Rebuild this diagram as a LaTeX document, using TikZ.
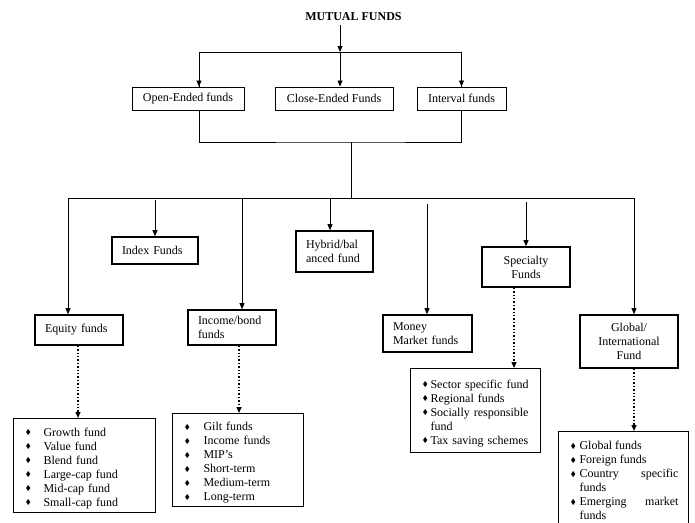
\documentclass[tikz,border=0pt]{standalone}
\usepackage{fontspec}
\usepackage{amssymb}
\setmainfont{Liberation Serif}
\usetikzlibrary{arrows.meta}

\newlength\bulletgap
\newcommand{\fundbullet}{\raisebox{0.25ex}{\scriptsize$\blacklozenge$}}
\newcommand{\fitem}[1]{\par\noindent\hangindent=\bulletgap\hangafter=1\makebox[\bulletgap][l]{\hspace{2pt}\fundbullet}#1}
\newcommand{\fulljustify}{\leftskip=0pt\rightskip=0pt\spaceskip=0pt\xspaceskip=0pt\parfillskip=0pt plus 1fil}

\begin{document}
\begin{tikzpicture}[x=1pt,y=-1pt,
	font=\fontsize{12}{14}\selectfont,
	arr/.style={-{Triangle[length=6pt,width=5pt]},line width=0.8pt},
	dotarr/.style={-{Triangle[length=6pt,width=5pt]},line width=1.4pt,dotted},
	topbox/.style={draw,line width=1pt,inner sep=0pt,minimum height=23pt},
	kindbox/.style={draw,line width=1.6pt,inner xsep=10pt,inner ysep=0pt},
	kindboxc/.style={kindbox,align=center},
	listbox/.style={draw,line width=1.1pt,anchor=north west,inner xsep=10pt,inner ysep=3pt}]
	\useasboundingbox (0,0) rectangle (695,522);
	\clip (0,0) rectangle (695,522);
	\node[font=\fontsize{12}{14}\selectfont\bfseries] (title) at (353.5,17) {MUTUAL FUNDS};
	\node[topbox,minimum width=112pt] (open) at (188,98.5) {Open-Ended funds};
	\node[topbox,minimum width=118pt] (close) at (334,98.5) {Close-Ended Funds};
	\node[topbox,minimum width=89pt] (interval) at (461.5,98.5) {Interval funds};
	\node[kindbox,text width=68pt,minimum height=30pt] (equity) at (79,330) {Equity funds};
	\node[kindbox,text width=66pt,minimum height=27pt] (index) at (155,250.5) {Index Funds};
	\node[kindbox,text width=68pt,minimum height=35pt] (income) at (232,327.5) {Income/bond\\funds};
	\node[kindbox,text width=57pt,minimum height=41pt] (hybrid) at (334.5,251.5) {Hybrid/bal\\anced fund};
	\node[kindbox,text width=69pt,minimum height=37pt] (money) at (427.5,333.5) {Money\\Market funds};
	\node[kindboxc,text width=68pt,minimum height=40pt] (specialty) at (526,267) {Specialty\\Funds};
	\node[kindboxc,text width=78pt,minimum height=53pt] (global) at (629,341.5) {Global/\\International\\Fund};
	\node[listbox,text width=122pt,minimum height=94pt] (equitylist) at (13,418) {\setlength\bulletgap{20pt}%
		\fitem{Growth fund}\fitem{Value fund}\fitem{Blend fund}\fitem{Large-cap fund}\fitem{Mid-cap fund}\fitem{Small-cap fund}\par};
	\node[listbox,text width=111pt,minimum height=93pt] (incomelist) at (172,413) {\setlength\bulletgap{21pt}%
		\fitem{Gilt funds}\fitem{Income funds}\fitem{MIP's}\fitem{Short-term}\fitem{Medium-term}\fitem{Long-term}\par};
	\node[listbox,text width=110pt,minimum height=84pt] (specialtylist) at (410,368) {\setlength\bulletgap{10pt}%
		\fitem{Sector specific fund}\fitem{Regional funds}\fitem{Socially responsible fund}\fitem{Tax saving schemes}\par};
	\node[listbox,text width=110pt,inner ysep=4pt] (globallist) at (558,431) {\fulljustify\setlength\bulletgap{11pt}%
		\fitem{Global funds}\fitem{Foreign funds}\fitem{Country specific funds}\fitem{Emerging market funds}\par};
	\coordinate (top) at (340,52);
	\coordinate (mid) at (351,142);
	\coordinate (low) at (351,198);
	\coordinate (lowleft) at (68,198);
	\coordinate (lowright) at (634,198);
	\coordinate (indextop) at (155,200);
	\coordinate (moneytop) at (427,204);
	\coordinate (specialtytop) at (526,202);
	\draw[arr] (title.south -| top) -- (top);
	\draw (open.north -| 199,0) |- (interval.north |- top) -- (interval.north);
	\draw[arr] (top -| 199,0) -- (open.north -| 199,0);
	\draw[arr] (top) -- (close.north -| top);
	\draw[arr] (interval.north |- top) -- (interval.north);
	\draw (open.south -| 199,0) |- (mid) -| (interval.south);
	\draw (mid) -- (low);
	\draw (lowleft) -- (lowright);
	\draw[arr] (lowleft) -- (equity.north -| lowleft);
	\draw[arr] (242,198) -- (income.north -| 242,0);
	\draw[arr] (330,198) -- (hybrid.north -| 330,0);
	\draw[arr] (lowright) -- (global.north -| lowright);
	\draw[arr] (indextop) -- (index.north -| indextop);
	\draw[arr] (moneytop) -- (money.north -| moneytop);
	\draw[arr] (specialtytop) -- (specialty.north);
	\draw[dotarr] (equity.south -| 78,0) -- (equitylist.north -| 78,0);
	\draw[dotarr] (income.south -| 239,0) -- (incomelist.north -| 239,0);
	\draw[dotarr] (specialty.south -| 514,0) -- (specialtylist.north -| 514,0);
	\draw[dotarr] (global.south -| 634,0) -- (globallist.north -| 634,0);
\end{tikzpicture}
\end{document}
